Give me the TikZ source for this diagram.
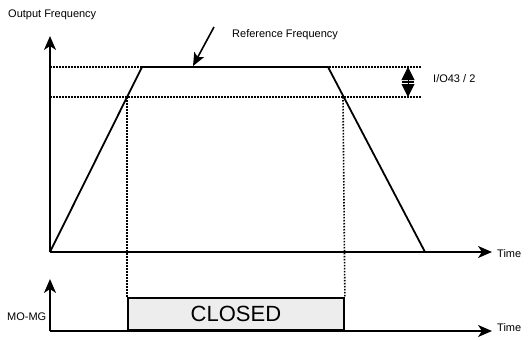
\documentclass[tikz,border=0pt]{standalone}
\usepackage{fontspec}
\setmainfont{Liberation Sans}
\usetikzlibrary{arrows.meta}
\begin{document}
\begin{tikzpicture}[
            x=1pt, y=-1pt,
            axis/.style={line width=1.9pt, -{Stealth[length=14pt, width=12pt, inset=4pt]}},
            ramp/.style={line width=1.8pt, line join=miter},
            guide/.style={line width=1.6pt, dash pattern=on 1.5pt off 1.5pt},
            txt/.style={font=\fontsize{11}{13}\selectfont, inner sep=0pt, anchor=west},
            relay/.style={draw, line width=1.9pt, fill=gray!14, inner sep=0pt, anchor=south west,
                minimum width=216pt, minimum height=32pt, font=\fontsize{22}{24}\selectfont}
        ]
            \useasboundingbox (0,0) rectangle (531,340);
            % upper chart
            \coordinate (o) at (50,252);
            \coordinate (ytop) at (50,36);
            \coordinate (xend) at (492,252);
            \coordinate (rise) at (142,67);
            \coordinate (fall) at (328,67);
            \coordinate (stop) at (425,252);
            \coordinate (hiL) at (50,67);
            \coordinate (hiR) at (422,67);
            \coordinate (loL) at (50,97);
            \coordinate (loR) at (422,97);
            \coordinate (cl) at (127,97);
            \coordinate (cr) at (343,97);
            \node[txt] (outf) at (8,15) {Output Frequency};
            \node[txt] (reff) at (232,35) {Reference Frequency};
            \node[txt] (band) at (433,79) {I/O43 / 2};
            \node[txt] (time1) at (497,254) {Time};
            \draw[guide] (hiL) -- (hiR);
            \draw[guide] (loL) -- (loR);
            \draw[ramp] (o) -- (rise) -- (fall) -- (stop);
            \draw[axis] (o) -- (ytop);
            \draw[axis] (o) -- (xend);
            \coordinate (refa) at (214,27);
            \coordinate (refb) at (193,66);
            \draw[line width=1.6pt, -{Stealth[length=13pt, width=11pt, inset=3pt]}] (refa) -- (refb);
            \coordinate (bm) at (408,82);
            \draw[line width=1pt, -{Triangle[length=13pt, width=13pt]}] (bm) -- (408,67);
            \draw[line width=1pt, -{Triangle[length=13pt, width=13pt]}] (bm) -- (408,97);
            \draw[line width=1.4pt] (402,82) -- (414,82);

            % lower chart
            \coordinate (o2) at (50,331);
            \coordinate (ytop2) at (50,279);
            \coordinate (xend2) at (492,331);
            \node[txt] (momg) at (7,317) {MO-MG};
            \node[txt] (time2) at (497,328) {Time};
            \node[relay] (closed) at (127,331) {CLOSED};
            \draw[guide] (cl) -- (closed.north west);
            \draw[guide] (cr) -- (closed.north east);
            \draw[axis] (o2) -- (ytop2);
            \draw[axis] (o2) -- (xend2);
        \end{tikzpicture}
\end{document}
